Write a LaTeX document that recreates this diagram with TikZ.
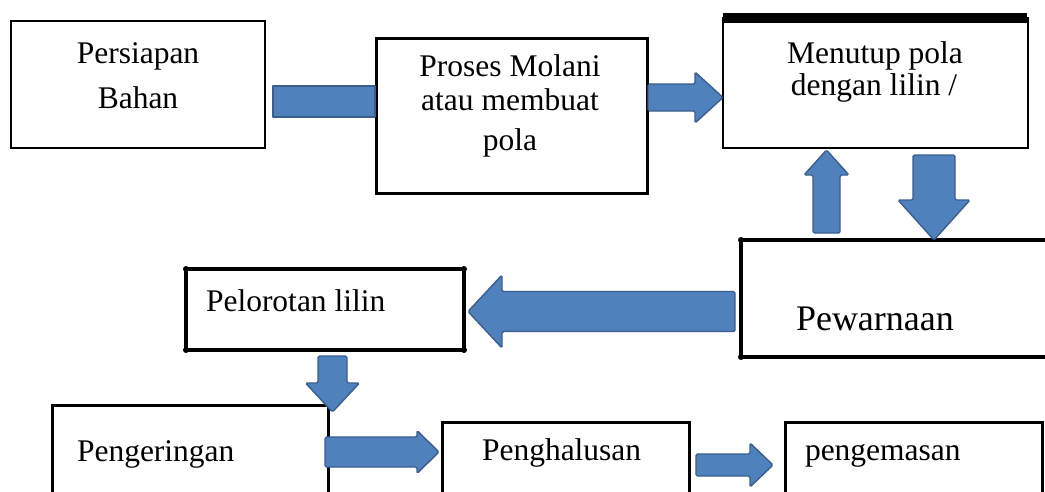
\documentclass[tikz,border=0pt]{standalone}
\usepackage{fontspec}
\setmainfont{Liberation Serif}
\usetikzlibrary{calc}
\definecolor{arrfill}{HTML}{4F81BD}
\definecolor{arredge}{HTML}{3A5F8E}
\tikzset{
  box/.style={draw=black, line width=2.6pt, fill=white, inner sep=0pt, outer sep=0pt},
  heavybox/.style={box, line width=3.6pt},
  txt/.style={font=\fontsize{31.5}{36}\selectfont, inner sep=0pt, outer sep=0pt},
  bigtxt/.style={font=\fontsize{36}{40}\selectfont, inner sep=0pt, outer sep=0pt},
  blockarr/.style={fill=arrfill, draw=arredge, line width=1.4pt, rounded corners=1.5pt, line join=round},
  cornerdot/.style={fill=black}
}
% #1 start, #2 tip, #3 half shaft, #4 half head, #5 head length
\newcommand\blockarrow[5]{%
  \coordinate (ba-a) at #1;
  \coordinate (ba-b) at #2;
  \coordinate (ba-h) at ($(ba-b)!#5!(ba-a)$);
  \draw[blockarr] ($(ba-a)!#3!90:(ba-b)$) -- ($(ba-h)!#3!-90:(ba-a)$) -- ($(ba-h)!#4!-90:(ba-a)$)
    -- (ba-b) -- ($(ba-h)!#4!90:(ba-a)$) -- ($(ba-h)!#3!90:(ba-a)$) -- ($(ba-a)!#3!-90:(ba-b)$) -- cycle;}
\begin{document}
\begin{tikzpicture}[x=1pt,y=-1pt]
\useasboundingbox (0,0) rectangle (1045,491);
\clip (0,0) rectangle (1045,491);
\fill[white] (0,0) rectangle (1045,491);

% boxes
\node[box, minimum width=254pt, minimum height=127pt] (bahan) at (138,84.5) {};
\node[box, line width=3pt, minimum width=271pt, minimum height=155pt] (proses) at (511.5,115.5) {};
\node[box, minimum width=305pt, minimum height=130pt] (menutup) at (875.5,83) {};
\draw[line width=10pt] (menutup.north west) -- ($(menutup.north east)+(-1,0)$);
\node[heavybox, minimum width=319pt, minimum height=117pt] (pewarnaan) at (900.5,298.5) {};
\node[heavybox, minimum width=278pt, minimum height=81pt] (pelorotan) at (325,309.5) {};
\node[box, line width=3pt, minimum width=276pt, minimum height=105pt] (pengeringan) at (190,457.5) {};
\node[box, line width=3pt, minimum width=247pt, minimum height=88pt] (penghalusan) at (565.5,466) {};
\node[box, line width=3pt, minimum width=257pt, minimum height=88pt] (pengemasan) at (913.5,466) {};

% corner dots
\foreach \c in {north west,north east,south west,south east}
  \fill[cornerdot] (pelorotan.\c) circle (3pt);
\fill[cornerdot] (pewarnaan.north west) circle (3pt);
\fill[cornerdot] (pewarnaan.south west) circle (3pt);

% texts
\node[txt, anchor=base] (t-bahan1) at (138,63) {Persiapan};
\node[txt, anchor=base] (t-bahan2) at (138,108) {Bahan};
\node[txt, anchor=base] (t-proses1) at (510,76) {Proses Molani};
\node[txt, anchor=base] (t-proses2) at (510,110) {atau membuat};
\node[txt, anchor=base] (t-proses3) at (510,150) {pola};
\node[txt, anchor=base] (t-menutup1) at (875,63) {Menutup pola};
\node[txt, anchor=base] (t-menutup2) at (874,95) {dengan lilin /};
\node[txt, anchor=base west] (t-pelorotan) at (206,311) {Pelorotan lilin};
\node[bigtxt, anchor=base west] (t-pewarnaan) at (796,330) {Pewarnaan};
\node[txt, anchor=base west] (t-pengeringan) at (77,461) {Pengeringan};
\node[txt, anchor=base west] (t-penghalusan) at (482,460) {Penghalusan};
\node[txt, anchor=base west] (t-pengemasan) at (805,460) {pengemasan};

% connectors
\draw[blockarr, rounded corners=0pt] ($(bahan.east)+(8,1.5)$) rectangle ($(proses.west)+(-1,1.5)$);

\coordinate (a2t) at ($(menutup.west)+(0,14.5)$);
\blockarrow{($(proses.east |- a2t)+(1,0)$)}{(a2t)}{13.5pt}{25.5pt}{28pt}

\coordinate (a3t) at ($(menutup.south)+(-49,2)$);
\blockarrow{($(a3t |- pewarnaan.north)+(0,-7)$)}{(a3t)}{13.5pt}{22.5pt}{25pt}

\coordinate (a4s) at ($(menutup.south)+(58.5,7)$);
\blockarrow{(a4s)}{(a4s |- pewarnaan.north)}{21pt}{36pt}{40pt}

\coordinate (a5t) at ($(pelorotan.east)+(4,2)$);
\blockarrow{($(pewarnaan.west |- a5t)+(-6,0)$)}{(a5t)}{20pt}{36.5pt}{34pt}

\coordinate (a6s) at ($(pelorotan.south)+(7.5,6)$);
\blockarrow{(a6s)}{($(a6s |- pengeringan.north)+(0,7)$)}{14.5pt}{27pt}{29pt}

\coordinate (a7s) at ($(pengeringan.north east)+(-3,47)$);
\blockarrow{(a7s)}{($(penghalusan.west |- a7s)+(-3,0)$)}{15pt}{21.5pt}{22pt}

\coordinate (a8s) at ($(penghalusan.north east)+(7,43)$);
\blockarrow{(a8s)}{($(pengemasan.west |- a8s)+(-12,0)$)}{11pt}{22pt}{23pt}
\end{tikzpicture}
\end{document}
